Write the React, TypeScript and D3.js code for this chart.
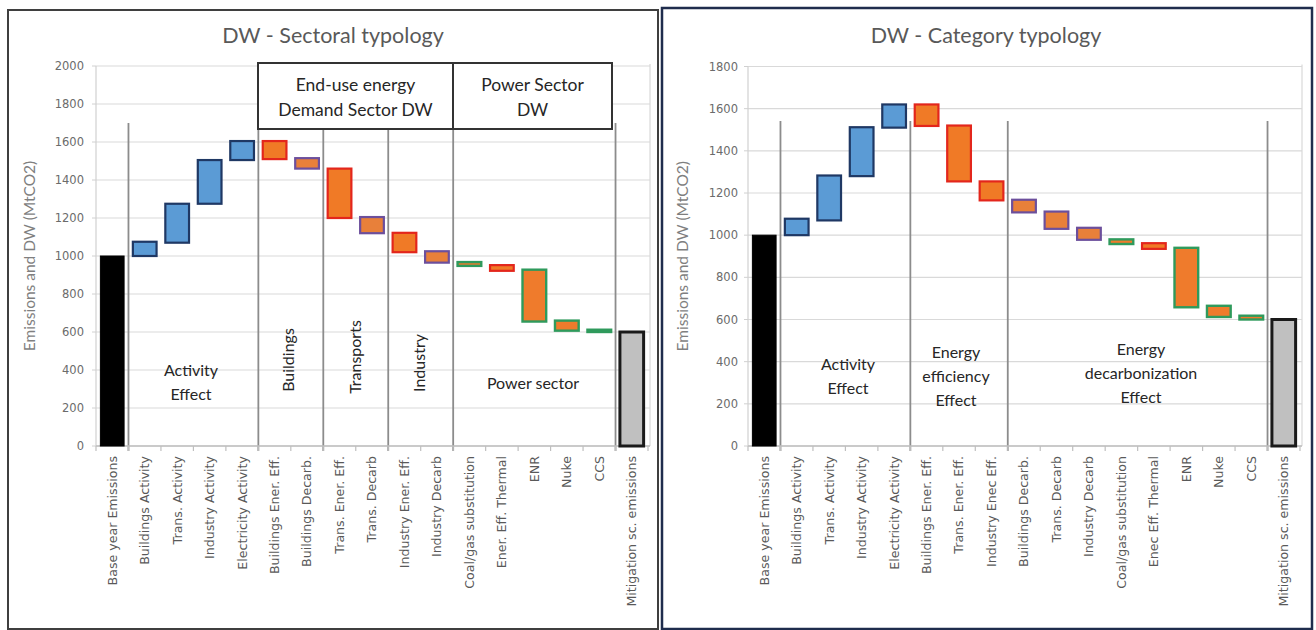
import React from "react";
import * as d3 from "d3";

// ---------- DATA ----------
const leftCategories = [
  "Base year Emissions", "Buildings Activity", "Trans. Activity", "Industry Activity",
  "Electricity Activity", "Buildings Ener. Eff.", "Buildings Decarb.", "Trans. Ener. Eff.",
  "Trans. Decarb", "Industry Ener. Eff.", "Industry Decarb", "Coal/gas substitution",
  "Ener. Eff. Thermal", "ENR", "Nuke", "CCS", "Mitigation sc. emissions",
];
const leftFrom = [0, 1000, 1070, 1275, 1505, 1605, 1515, 1460, 1205, 1122, 1025, 968, 952, 928, 660, 612, 0];
const leftTo = [1000, 1075, 1275, 1505, 1605, 1510, 1460, 1200, 1120, 1020, 965, 948, 922, 655, 607, 600, 600];
const leftGroups = [
  "total", "activity", "activity", "activity", "activity", "efficiency", "decarb", "efficiency",
  "decarb", "efficiency", "decarb", "power", "efficiency", "power", "power", "power", "result",
];
const leftYTicks = [0, 200, 400, 600, 800, 1000, 1200, 1400, 1600, 1800, 2000];

const rightCategories = [
  "Base year Emissions", "Buildings Activity", "Trans. Activity", "Industry Activity",
  "Electricity Activity", "Buildings Ener. Eff.", "Trans. Ener. Eff.", "Industry Enec Eff.",
  "Buildings Decarb.", "Trans. Decarb", "Industry Decarb", "Coal/gas substitution",
  "Enec Eff. Thermal", "ENR", "Nuke", "CCS", "Mitigation sc. emissions",
];
const rightFrom = [0, 1000, 1070, 1280, 1510, 1620, 1520, 1255, 1168, 1112, 1035, 980, 962, 940, 665, 618, 0];
const rightTo = [1000, 1078, 1283, 1512, 1620, 1518, 1255, 1165, 1108, 1030, 978, 958, 935, 658, 612, 600, 600];
const rightGroups = [
  "total", "activity", "activity", "activity", "activity", "efficiency", "efficiency", "efficiency",
  "decarb", "decarb", "decarb", "power", "efficiency", "power", "power", "power", "result",
];
const rightYTicks = [0, 200, 400, 600, 800, 1000, 1200, 1400, 1600, 1800];

const leftSeparatorsBefore = [
  "Buildings Activity", "Buildings Ener. Eff.", "Trans. Ener. Eff.", "Industry Ener. Eff.",
  "Coal/gas substitution", "Mitigation sc. emissions",
];
const rightSeparatorsBefore = [
  "Buildings Activity", "Buildings Ener. Eff.", "Buildings Decarb.", "Mitigation sc. emissions",
];

// ---------- STYLE ----------
const groupStyle: Record<string, { fill: string; stroke: string; sw: number }> = {
  total: { fill: "#000000", stroke: "#000000", sw: 1 },
  activity: { fill: "#5b9bd5", stroke: "#1f3864", sw: 2.2 },
  efficiency: { fill: "#f07a26", stroke: "#e3261c", sw: 2.2 },
  decarb: { fill: "#e8803a", stroke: "#6c4f9c", sw: 2.2 },
  power: { fill: "#ef7b2c", stroke: "#2f9a5c", sw: 2.4 },
  result: { fill: "#c0c0c0", stroke: "#1a1a1a", sw: 3 },
};

const CAL = "Lato, 'Open Sans', sans-serif";
const SANS = "'DejaVu Sans', 'Liberation Sans', sans-serif";

type TextAnn = { x: number; y: number; lines: string[]; rotate?: boolean };
type BoxAnn = { x0: number; x1: number; y0: number; y1: number; lines: string[] };

type PanelProps = {
  frame: { x: number; y: number; w: number; h: number; stroke: string; sw: number };
  title: string;
  titleX: number;
  categories: string[];
  from: number[];
  to: number[];
  groups: string[];
  yTicks: number[];
  yMax: number;
  xRange: [number, number];
  yRange: [number, number];
  yLabelX: number;
  tickLabelX: number;
  separators: string[];
  sepTop: number;
  texts: TextAnn[];
  boxes: BoxAnn[];
};

function Panel(p: PanelProps) {
  const x = d3
    .scaleBand<string>()
    .domain(p.categories)
    .range(p.xRange)
    .paddingInner(0.27)
    .paddingOuter(0.135);
  const y = d3.scaleLinear().domain([0, p.yMax]).range(p.yRange);
  const step = x.step();
  const bw = x.bandwidth();
  const center = (c: string) => (x(c) as number) + bw / 2;
  const y0 = p.yRange[0];
  const yTop = p.yRange[1];
  const boundaries = d3.range(p.categories.length + 1).map(
    (i) => p.xRange[0] + (p.xRange[1] - p.xRange[0]) * (i / p.categories.length)
  );

  return (
    <g>
      <rect
        x={p.frame.x}
        y={p.frame.y}
        width={p.frame.w}
        height={p.frame.h}
        fill="#ffffff"
        stroke={p.frame.stroke}
        strokeWidth={p.frame.sw}
      />
      <text
        x={p.titleX}
        y={43}
        textAnchor="middle"
        fontFamily={CAL}
        fontSize={21.5}
        fill="#595959"
      >
        {p.title}
      </text>
      {/* gridlines */}
      {p.yTicks.map((t) => (
        <line
          key={"g" + t}
          x1={p.xRange[0]}
          x2={p.xRange[1] + 2}
          y1={y(t)}
          y2={y(t)}
          stroke="#d9d9d9"
          strokeWidth={1.2}
        />
      ))}
      <line x1={p.xRange[1] + 2} x2={p.xRange[1] + 2} y1={yTop - 2} y2={y0} stroke="#d9d9d9" strokeWidth={1.2} />
      <line x1={p.xRange[0]} x2={p.xRange[0]} y1={yTop} y2={y0} stroke="#d0d0d0" strokeWidth={1.2} />
      {p.yTicks.map((t) => (
        <g key={"t" + t}>
          <line x1={p.xRange[0] - 4} x2={p.xRange[0]} y1={y(t)} y2={y(t)} stroke="#d0d0d0" />
          <text
            x={p.tickLabelX}
            y={y(t)}
            dy="0.35em"
            textAnchor="end"
            fontFamily={SANS}
            fontSize={11.5}
            fill="#6b6b6b"
          >
            {t}
          </text>
        </g>
      ))}
      <text
        transform={`translate(${p.yLabelX},${(y0 + yTop) / 2}) rotate(-90)`}
        textAnchor="middle"
        dy="0.35em"
        fontFamily={CAL}
        fontSize={15.5}
        fill="#7f7f7f"
      >
        Emissions and DW (MtCO2)
      </text>
      {/* separators */}
      {p.separators.map((c) => {
        const sx = center(c) - step / 2;
        return (
          <line key={"s" + c} x1={sx} x2={sx} y1={p.sepTop} y2={y0 + 5} stroke="#8c8c8c" strokeWidth={1.8} />
        );
      })}
      {/* x axis */}
      <line x1={p.xRange[0]} x2={p.xRange[1] + 2} y1={y0} y2={y0} stroke="#bfbfbf" strokeWidth={1.5} />
      {boundaries.map((bx, i) => (
        <line key={"b" + i} x1={bx} x2={bx} y1={y0} y2={y0 + 5} stroke="#bfbfbf" strokeWidth={1.2} />
      ))}
      {p.categories.map((c) => (
        <text
          key={"xl" + c}
          transform={`translate(${center(c)},${y0 + 10}) rotate(-90)`}
          textAnchor="end"
          dy="0.35em"
          fontFamily={SANS}
          fontSize={12.6}
          fill="#595959"
        >
          {c}
        </text>
      ))}
      {/* bars */}
      {p.categories.map((c, i) => {
        const st = groupStyle[p.groups[i]];
        const top = y(Math.max(p.from[i], p.to[i]));
        const bot = y(Math.min(p.from[i], p.to[i]));
        return (
          <rect
            key={"bar" + c}
            x={x(c) as number}
            y={top}
            width={bw}
            height={Math.max(bot - top, 1)}
            fill={st.fill}
            stroke={st.stroke}
            strokeWidth={st.sw}
          />
        );
      })}
      {/* annotation boxes */}
      {p.boxes.map((b, i) => (
        <g key={"box" + i}>
          <rect x={b.x0} y={b.y0} width={b.x1 - b.x0} height={b.y1 - b.y0} fill="#ffffff" stroke="#333333" strokeWidth={2} />
          {b.lines.map((l, j) => (
            <text
              key={j}
              x={(b.x0 + b.x1) / 2}
              y={b.y0 + 22 + j * 25}
              dy="0.35em"
              textAnchor="middle"
              fontFamily={CAL}
              fontSize={17.5}
              fill="#262626"
            >
              {l}
            </text>
          ))}
        </g>
      ))}
      {/* text annotations */}
      {p.texts.map((t, i) =>
        t.rotate ? (
          <text
            key={"ta" + i}
            transform={`translate(${t.x},${t.y}) rotate(-90)`}
            textAnchor="middle"
            dy="0.35em"
            fontFamily={CAL}
            fontSize={16}
            fill="#262626"
          >
            {t.lines[0]}
          </text>
        ) : (
          <g key={"ta" + i}>
            {t.lines.map((l, j) => (
              <text
                key={j}
                x={t.x}
                y={t.y + j * 24}
                dy="0.35em"
                textAnchor="middle"
                fontFamily={CAL}
                fontSize={16}
                fill="#262626"
              >
                {l}
              </text>
            ))}
          </g>
        )
      )}
    </g>
  );
}

export default function App() {
  return (
    <svg
      width={1316}
      height={630}
      style={{ position: "absolute", left: 0, top: 0, background: "#ffffff" }}
    >
      <Panel
        frame={{ x: 8, y: 10, w: 650, h: 619, stroke: "#3f3f3f", sw: 2 }}
        title="DW - Sectoral typology"
        titleX={333}
        categories={leftCategories}
        from={leftFrom}
        to={leftTo}
        groups={leftGroups}
        yTicks={leftYTicks}
        yMax={2000}
        xRange={[96, 648]}
        yRange={[446, 66]}
        yLabelX={30}
        tickLabelX={84}
        separators={leftSeparatorsBefore}
        sepTop={123}
        boxes={[
          { x0: 258, x1: 453, y0: 63, y1: 129, lines: ["End-use energy", "Demand Sector DW"] },
          { x0: 453, x1: 612, y0: 63, y1: 129, lines: ["Power Sector", "DW"] },
        ]}
        texts={[
          { x: 191, y: 370, lines: ["Activity", "Effect"] },
          { x: 288, y: 360, lines: ["Buildings"], rotate: true },
          { x: 355, y: 357, lines: ["Transports"], rotate: true },
          { x: 419, y: 363, lines: ["Industry"], rotate: true },
          { x: 533, y: 383, lines: ["Power sector"] },
        ]}
      />
      <Panel
        frame={{ x: 662, y: 8, w: 650, h: 621, stroke: "#1f2d4d", sw: 2.5 }}
        title="DW - Category typology"
        titleX={986}
        categories={rightCategories}
        from={rightFrom}
        to={rightTo}
        groups={rightGroups}
        yTicks={rightYTicks}
        yMax={1800}
        xRange={[748, 1300]}
        yRange={[446, 66.5]}
        yLabelX={683}
        tickLabelX={738}
        separators={rightSeparatorsBefore}
        sepTop={121}
        boxes={[]}
        texts={[
          { x: 848, y: 364, lines: ["Activity", "Effect"] },
          { x: 956, y: 352, lines: ["Energy", "efficiency", "Effect"] },
          { x: 1141, y: 349, lines: ["Energy", "decarbonization", "Effect"] },
        ]}
      />
    </svg>
  );
}
